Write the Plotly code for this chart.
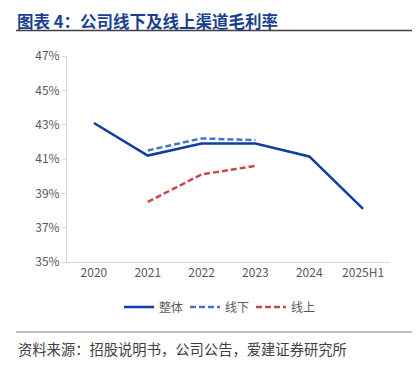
import plotly.graph_objects as go

categories = ["2020", "2021", "2022", "2023", "2024", "2025H1"]
overall = [43.1, 41.2, 41.9, 41.9, 41.15, 38.1]
offline = [None, 41.5, 42.2, 42.1, None, None]
online = [None, 38.5, 40.1, 40.6, None, None]
y_ticks = [35, 37, 39, 41, 43, 45, 47]

FONT = "Noto Sans CJK SC, Microsoft YaHei, sans-serif"

# page body has an 8px margin; compensate
OX, OY = 8, 8
L, R, T, B = 67 - OX, 390 - OX, 56 - OY, 262 - OY
W, H = 420, 366
PW, PH = R - L, B - T


def px(x):
    return (x - OX - L) / PW


def py(y):
    return (B - (y - OY)) / PH


fig = go.Figure()
fig.add_trace(go.Scatter(x=categories, y=overall, name="整体", mode="lines",
                         line=dict(color="#0d3ea3", width=2.5)))
fig.add_trace(go.Scatter(x=categories, y=offline, name="线下", mode="lines",
                         line=dict(color="#4a72c6", width=2.5, dash="6px,3px")))
fig.add_trace(go.Scatter(x=categories, y=online, name="线上", mode="lines",
                         line=dict(color="#c9474a", width=2.5, dash="6px,3px")))

fig.update_layout(
    width=W, height=H,
    margin=dict(l=L, r=W - R, t=T, b=H - B),
    paper_bgcolor="white", plot_bgcolor="white",
    font=dict(family=FONT, size=12, color="#595959"),
    showlegend=True,
    legend=dict(orientation="h", x=px(119), xanchor="left", y=py(307), yanchor="middle",
                font=dict(size=12, color="#595959"), itemwidth=30,
                entrywidth=21, entrywidthmode="pixels",
                tracegroupgap=0, bgcolor="rgba(0,0,0,0)"),
    xaxis=dict(type="category", showgrid=False, showline=True, linecolor="#d9d9d9",
               linewidth=1, ticks="", tickfont=dict(size=12, color="#595959"),
               range=[-0.5, 5.5]),
    yaxis=dict(range=[35, 47], tickvals=y_ticks, ticktext=[f"{v}%" for v in y_ticks],
               showgrid=False, showline=True, linecolor="#d9d9d9", linewidth=1,
               ticks="outside", ticklen=4, tickcolor="#d9d9d9",
               tickfont=dict(size=12, color="#595959"), zeroline=False),
    annotations=[
        dict(text="<b>图表 4：公司线下及线上渠道毛利率</b>", xref="paper", yref="paper",
             x=px(16), y=py(8), xanchor="left", yanchor="top", borderpad=0,
             showarrow=False, font=dict(size=16.5, color="#1b3f8f", family=FONT)),
        dict(text="资料来源：招股说明书，公司公告，爱建证券研究所", xref="paper", yref="paper",
             x=px(16), y=py(348), xanchor="left", yanchor="middle",
             showarrow=False, font=dict(size=14.3, color="#404040", family=FONT)),
    ],
    shapes=[
        dict(type="line", xref="paper", yref="paper", x0=px(16), x1=px(418),
             y0=py(30.5), y1=py(30.5),
             line=dict(color="#404040", width=1.5)),
        dict(type="line", xref="paper", yref="paper", x0=px(16), x1=px(418),
             y0=py(332), y1=py(332),
             line=dict(color="#808080", width=1)),
    ],
)

fig.write_html("out.html")
